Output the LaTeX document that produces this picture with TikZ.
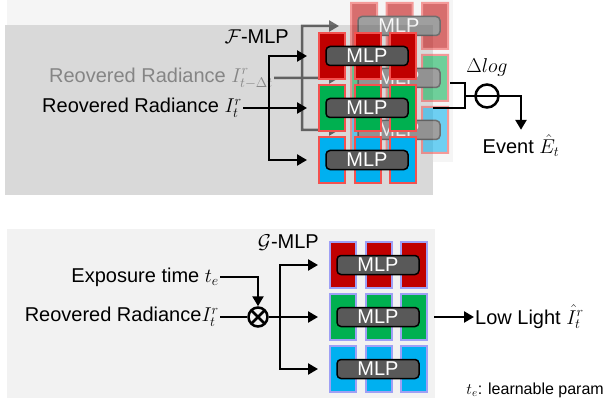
\RequirePackage{fix-cm}
\documentclass[tikz,border=0pt]{standalone}
\usepackage{fontspec}
\setmainfont{Liberation Sans}
\usepackage{tikz}
\usetikzlibrary{positioning, arrows.meta, calc}
\definecolor{cellred}{HTML}{C00000}
\definecolor{cellgreen}{HTML}{00B050}
\definecolor{cellblue}{HTML}{00B0F0}
\definecolor{salmon}{HTML}{F4514F}
\definecolor{lavender}{HTML}{9FA0F5}
\definecolor{mlpgray}{HTML}{595959}
\definecolor{panelgray}{HTML}{D9D9D9}
\definecolor{panellight}{HTML}{F2F2F2}
\tikzset{
  mlp cell/.style={
    draw=salmon, line width=2pt,
    minimum width=26pt, minimum height=46pt,
    inner sep=0pt
  },
  mlp box/.style={
    draw=black, line width=1.5pt, fill=mlpgray,
    rounded corners=4pt,
    minimum width=82pt, minimum height=19pt,
    inner sep=0pt, text=white
  },
  mlp stack/.pic={
    \foreach \col [count=\n] in {cellred, cellgreen, cellblue}{
      \foreach \k in {0,1,2}
        \node[mlp cell, fill=\col] at ({14+35.5*\k}, {24+52*(\n-1)}) {};
      \node[mlp box] (-row\n) at (49, {24+52*(\n-1)}) {MLP};
      \coordinate (-in\n) at (-11, {24+52*(\n-1)});
      \coordinate (-out\n) at (105, {24+52*(\n-1)});
    }
  },
  panel/.style={anchor=north west, inner sep=0pt, draw=none},
  txt/.style={inner sep=1pt},
  flow/.style={line width=2.5pt},
  flow arrow/.style={flow, -{Triangle[length=10pt, width=11pt]}},
  flow both/.style={flow, {Triangle[length=10pt, width=11pt]}-{Triangle[length=10pt, width=11pt]}},
  op/.style={circle, draw, line width=2.5pt, inner sep=0pt}
}

\begin{document}
\begin{tikzpicture}[x=1pt, y=-1pt, font=\fontsize{20}{24}\selectfont]
  \useasboundingbox (0,0) rectangle (606,404);
  % Panels
  \fill[black!4] (7,0) rectangle (453,162);
  \node[panel, fill=panelgray, minimum width=428pt, minimum height=170pt] (fpanel) at (5,25) {};
  \node[panel, fill=panellight, minimum width=428pt, minimum height=169pt] (gpanel) at (7,229) {};

  % Previous frame (faded)
  \begin{scope}[transparency group, opacity=0.55, black!75]
    \pic (bk) at (350,2) {mlp stack};
    \node[txt, anchor=east] (bin) at (274,78) {Reovered Radiance $I^r_{t-\Delta t}$};
    \coordinate (bsplit) at (302,78);
    \draw[flow arrow] (bin.east) -- (bk-in2);
    \draw[flow both] (bk-in1) -| (bsplit) |- (bk-in3);
  \end{scope}

  % Current frame
  \pic (fr) at (318,32) {mlp stack};
  \node[txt, anchor=east] (fin) at (243,108) {Reovered Radiance $I_t^r$};
  \node[txt, anchor=east] (flabel) at (290,37) {$\mathcal{F}$-MLP};
  \coordinate (fsplit) at (269,108);
  \draw[flow arrow] (fin.east) -- (fr-in2);
  \draw[flow both] (fr-in1) -| (fsplit) |- (fr-in3);

  % Event output
  \coordinate (bout) at (450,83);
  \coordinate (fout) at (fr-out2 -| fpanel.east);
  \coordinate (jn) at (465,96);
  \node[op, minimum size=23pt] (dlt) at (487,96) {};
  \node[txt, above=6pt of dlt] (dlog) {$\Delta log$};
  \node[txt] (ev) at (521,146) {Event $\hat{E}_t$};
  \draw[flow] (bout) -| (jn) |- (fout);
  \draw[flow arrow, shorten >=4pt] (jn) -| (ev.north);

  % Low-light branch
  \pic[mlp cell/.append style={draw=lavender}] (gm) at (329,241) {mlp stack};
  \node[txt, anchor=east] (glabel) at (320,243) {$\mathcal{G}$-MLP};
  \node[op, minimum size=19pt] (mul) at (258,317) {};
  \draw[line width=2.5pt, shorten >=1pt, shorten <=1pt] (mul.north west) -- (mul.south east);
  \draw[line width=2.5pt, shorten >=1pt, shorten <=1pt] (mul.north east) -- (mul.south west);
  \node[txt, anchor=east] (exp) at (220,277) {Exposure time $t_e$};
  \node[txt, anchor=east] (gin) at (220,317) {Reovered Radiance$I_t^r$};
  \coordinate (gsplit) at (280,317);
  \draw[flow arrow] (exp.east) -| (mul.north);
  \draw[flow] (gin.east) -- (mul.west);
  \draw[flow arrow] (mul.east) -- (gm-in2);
  \draw[flow both] (gm-in1) -| (gsplit) |- (gm-in3);
  \node[txt, anchor=west] (low) at (474,317) {Low Light $\hat{I}_t^r$};
  \draw[flow arrow] (gm-out2) -- (low.west);
  \node[txt, anchor=east, font=\fontsize{16}{19}\selectfont] (note) at (605,390) {$t_e$: learnable param};
\end{tikzpicture}
\end{document}
